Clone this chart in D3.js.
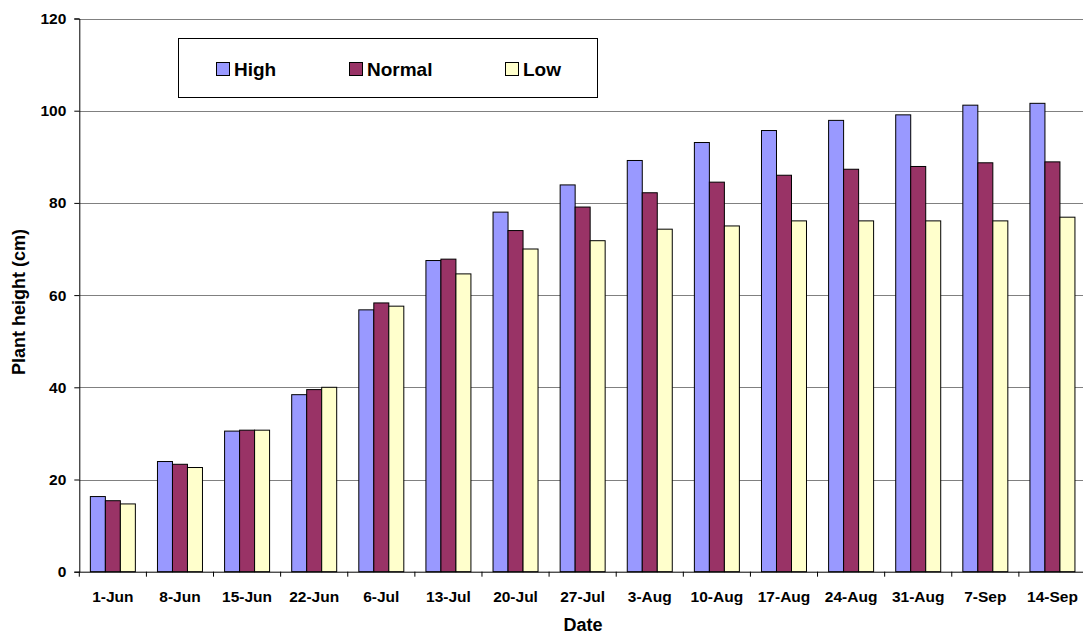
<!DOCTYPE html>
<html>
<head>
<meta charset="utf-8">
<script src="https://cdn.jsdelivr.net/npm/d3@7"></script>
<style>
  html, body { margin: 0; padding: 0; background: #fff; }
  svg { display: block; font-family: "Liberation Sans", Arial, sans-serif; }
</style>
</head>
<body>
<svg id="chart" width="1083" height="635"></svg>
<script>
const categories = ["1-Jun","8-Jun","15-Jun","22-Jun","6-Jul","13-Jul","20-Jul","27-Jul","3-Aug","10-Aug","17-Aug","24-Aug","31-Aug","7-Sep","14-Sep"];
const seriesNames = ["High","Normal","Low"];
const highValues   = [16.3, 23.9, 30.5, 38.4, 56.8, 67.5, 78.0, 83.9, 89.2, 93.1, 95.7, 97.9, 99.1, 101.2, 101.6];
const normalValues = [15.4, 23.3, 30.7, 39.5, 58.3, 67.8, 74.0, 79.1, 82.2, 84.5, 86.0, 87.3, 87.9, 88.7, 88.9];
const lowValues    = [14.7, 22.6, 30.7, 40.0, 57.6, 64.6, 70.0, 71.8, 74.3, 75.0, 76.1, 76.1, 76.1, 76.1, 76.9];
const yTicks = [0, 20, 40, 60, 80, 100, 120];
const colors = ["#9999FF", "#993366", "#FFFFCC"];

(function () {
const seriesValues = [highValues, normalValues, lowValues];
const svg = d3.select("#chart");
const pLeft = 79.3, pRight = 1086, pTop = 18.5, pBottom = 571.7;

const x = d3.scaleBand().domain(categories).range([pLeft, pRight]).paddingInner(0).paddingOuter(0);
const inner = d3.scaleBand().domain(seriesNames).range([0, 45]);
const y = d3.scaleLinear().domain([0, 120]).range([pBottom, pTop]);

// gridlines
svg.append("g").selectAll("line").data(yTicks.filter(t => t > 0)).join("line")
  .attr("x1", pLeft).attr("x2", 1083)
  .attr("y1", d => Math.round(y(d)) + 0.5).attr("y2", d => Math.round(y(d)) + 0.5)
  .attr("stroke", "#808080").attr("stroke-width", 1);

// bars
const groups = svg.append("g").selectAll("g").data(categories).join("g")
  .attr("transform", d => `translate(${x(d) + (x.bandwidth() - 45) / 2},0)`);
groups.selectAll("rect").data((d, i) => seriesNames.map((s, k) => ({s, v: seriesValues[k][i], k}))).join("rect")
  .attr("x", d => inner(d.s))
  .attr("width", inner.bandwidth())
  .attr("y", d => y(d.v))
  .attr("height", d => pBottom - y(d.v))
  .attr("fill", d => colors[d.k])
  .attr("stroke", "#000").attr("stroke-width", 1);

// y axis
const yAxis = svg.append("g").attr("transform", `translate(${pLeft},0)`)
  .call(d3.axisLeft(y).tickValues(yTicks).tickSize(5).tickPadding(8).tickFormat(d3.format("d")));
yAxis.select(".domain").attr("stroke", "#000");
yAxis.selectAll("text").attr("font-size", 15.5).attr("font-weight", "bold").attr("fill", "#000")
  .attr("font-family", "Liberation Sans, Arial, sans-serif");

// x axis
const xAxis = svg.append("g").attr("transform", `translate(0,${pBottom})`)
  .call(d3.axisBottom(x).tickSize(0).tickPadding(19.5));
xAxis.select(".domain").attr("stroke", "#000");
xAxis.selectAll("text").attr("font-size", 15.5).attr("font-weight", "bold").attr("fill", "#000")
  .attr("font-family", "Liberation Sans, Arial, sans-serif");
const bounds = categories.map(c => x(c)).concat([x(categories[categories.length - 1]) + x.bandwidth()]);
xAxis.append("g").selectAll("line").data(bounds).join("line")
  .attr("x1", d => d).attr("x2", d => d).attr("y1", 0).attr("y2", 5)
  .attr("stroke", "#000");

// axis titles
svg.append("text").attr("x", 583).attr("y", 630.5).attr("text-anchor", "middle")
  .attr("font-size", 18).attr("font-weight", "bold").text("Date");
svg.append("text").attr("transform", `translate(24.5,302) rotate(-90)`)
  .attr("text-anchor", "middle").attr("font-size", 18).attr("font-weight", "bold").text("Plant height (cm)");

// legend
const legend = svg.append("g");
legend.append("rect").attr("x", 178.5).attr("y", 38.5).attr("width", 419).attr("height", 59)
  .attr("fill", "#fff").attr("stroke", "#000");
const legendX = [216, 349, 505];
seriesNames.forEach((s, k) => {
  legend.append("rect").attr("x", legendX[k] + 0.5).attr("y", 62.5).attr("width", 13).attr("height", 13)
    .attr("fill", colors[k]).attr("stroke", "#000");
  legend.append("text").attr("x", legendX[k] + 18).attr("y", 75.5).attr("font-size", 19)
    .attr("font-weight", "bold").text(s);
});
})();
</script>
</body>
</html>
